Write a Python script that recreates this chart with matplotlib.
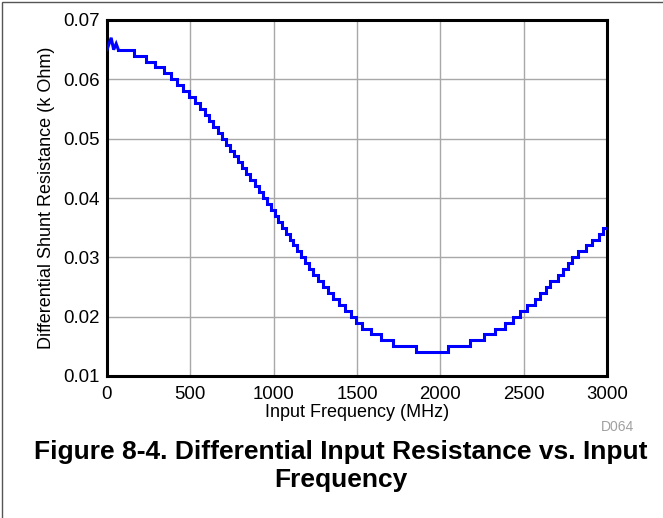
import matplotlib
matplotlib.use("Agg")
import matplotlib.pyplot as plt
from matplotlib.patches import Rectangle

plt.rcParams['font.family'] = ['Liberation Sans', 'DejaVu Sans']

# Ripple at the very start (drawn as a plain line)
ripple_freq_mhz = [0, 25, 40, 55, 68]
ripple_kohm = [0.065, 0.067, 0.065, 0.066, 0.065]

# Step breakpoints (MHz) and the resistance (k Ohm) held from each breakpoint
freq_mhz = [68, 159, 235, 285, 339, 384, 418, 458, 494, 528, 558,
            588, 614, 638, 663, 690, 712, 737, 761, 785, 808, 832, 860, 885, 912,
            936, 960, 983, 1005, 1027, 1050, 1072, 1095, 1118, 1141, 1164, 1188,
            1212, 1237, 1265, 1295, 1325, 1357, 1390, 1425, 1462, 1496, 1532, 1582,
            1641, 1717, 1851, 2046, 2175, 2262, 2327, 2386, 2438, 2476, 2518, 2568,
            2598, 2631, 2658, 2707, 2737, 2767, 2791, 2827, 2871, 2910, 2952, 2976,
            3000]
resistance_kohm = [0.065, 0.064, 0.063, 0.062, 0.061,
                   0.060, 0.059, 0.058, 0.057, 0.056, 0.055, 0.054, 0.053, 0.052,
                   0.051, 0.050, 0.049, 0.048, 0.047, 0.046, 0.045, 0.044, 0.043,
                   0.042, 0.041, 0.040, 0.039, 0.038, 0.037, 0.036, 0.035, 0.034,
                   0.033, 0.032, 0.031, 0.030, 0.029, 0.028, 0.027, 0.026, 0.025,
                   0.024, 0.023, 0.022, 0.021, 0.020, 0.019, 0.018, 0.017, 0.016,
                   0.015, 0.014, 0.015, 0.016, 0.017, 0.018, 0.019, 0.020, 0.021,
                   0.022, 0.023, 0.024, 0.025, 0.026, 0.027, 0.028, 0.029, 0.030,
                   0.031, 0.032, 0.033, 0.034, 0.035, 0.035]

x_ticks = [0, 500, 1000, 1500, 2000, 2500, 3000]
y_ticks = [0.01, 0.02, 0.03, 0.04, 0.05, 0.06, 0.07]
y_tick_labels = ["0.01", "0.02", "0.03", "0.04", "0.05", "0.06", "0.07"]

fig = plt.figure(figsize=(6.63, 5.18), dpi=100)
ax = fig.add_axes([107/663, 1 - 376/518, (607-107)/663, (376-20)/518])

line_kw = dict(color='#0000ff', linewidth=2.2, zorder=3, solid_joinstyle='miter')
ax.plot(ripple_freq_mhz, ripple_kohm, **line_kw)
ax.plot(freq_mhz, resistance_kohm, drawstyle='steps-post', **line_kw)

ax.set_xlim(0, 3000)
ax.set_ylim(0.01, 0.07)
ax.set_xticks(x_ticks)
ax.set_yticks(y_ticks)
ax.set_yticklabels(y_tick_labels)
ax.tick_params(length=0, labelsize=13.4)
ax.tick_params(axis='x', pad=7)
ax.tick_params(axis='y', pad=5)
ax.grid(True, color='#a8a8a8', linewidth=1.0)
for s in ax.spines.values():
    s.set_linewidth(2.2)
    s.set_color('black')

ax.set_xlabel("Input Frequency (MHz)", fontsize=13, labelpad=1)
ax.set_ylabel("Differential Shunt Resistance (k Ohm)", fontsize=13, labelpad=6)

fig.text(618/663, 1 - 427/518, "D064", fontsize=10, color='#a0a0a0',
         ha='center', va='center')
fig.text(341/663, 1 - 466/518, "Figure 8-4. Differential Input Resistance vs. Input\nFrequency",
         fontsize=19, fontweight='bold', ha='center', va='center', linespacing=1.2)

fig.add_artist(Rectangle((1.5/663, -0.1), 2.0, 1.1 - 2.5/518,
                         transform=fig.transFigure, fill=False,
                         edgecolor='#555555', linewidth=1.0))

fig.savefig("out.png", dpi=100)
